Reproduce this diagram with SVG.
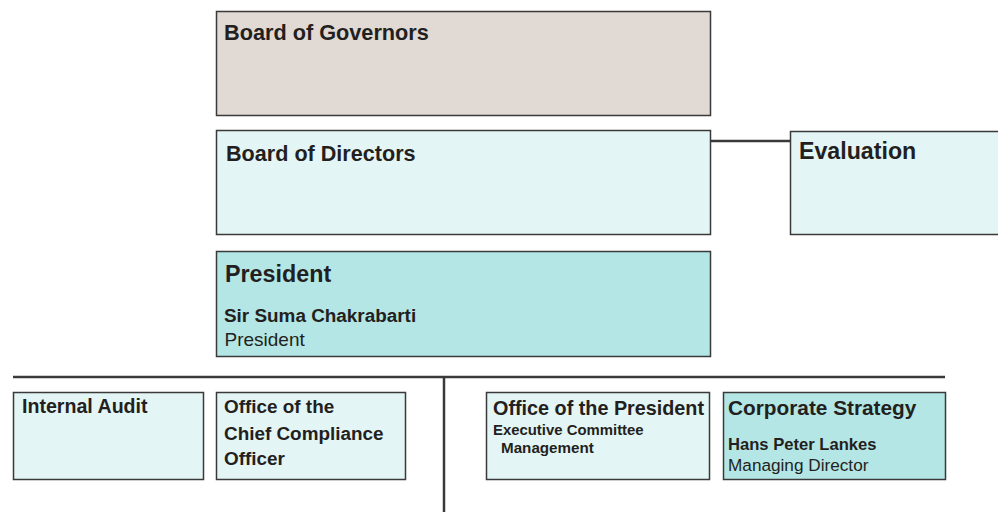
<svg xmlns="http://www.w3.org/2000/svg" width="998" height="512" viewBox="0 0 998 512">
<style>
.box{stroke:#3a3a3a;stroke-width:1.5}
.gov{fill:#e1d9d3}
.lt{fill:#e3f5f5}
.dk{fill:#b3e6e4}
text{font-family:"Liberation Sans","Arial",sans-serif;fill:#231f20}
.b{font-weight:bold}
.r{font-weight:normal}
.ln{stroke:#3a3a3a;stroke-width:2.5;fill:none}
</style>
<rect width="998" height="512" fill="#ffffff"/>
<g id="connectors">
<line class="ln" x1="711" y1="141" x2="790" y2="141"/>
<line class="ln" x1="13" y1="377" x2="945" y2="377"/>
<line class="ln" x1="444" y1="377" x2="444" y2="512"/>
</g>
<g id="board-of-governors">
<rect class="box gov" x="216.5" y="11.5" width="494" height="104"/>
<text class="b" x="224" y="40" font-size="21.7">Board of Governors</text>
</g>
<g id="board-of-directors">
<rect class="box lt" x="216.5" y="130.5" width="494" height="104"/>
<text class="b" x="226" y="161" font-size="21.6">Board of Directors</text>
</g>
<g id="evaluation">
<rect class="box lt" x="790.5" y="131.5" width="212" height="103"/>
<text class="b" x="799" y="159" font-size="23.2">Evaluation</text>
</g>
<g id="president">
<rect class="box dk" x="216.5" y="251.5" width="494" height="105"/>
<text class="b" x="225" y="282" font-size="23.3">President</text>
<text class="b" x="224" y="321.7" font-size="18.9">Sir Suma Chakrabarti</text>
<text class="r" x="224.5" y="345.7" font-size="19">President</text>
</g>
<g id="internal-audit">
<rect class="box lt" x="13.5" y="392.5" width="190" height="87"/>
<text class="b" x="22" y="413.3" font-size="19.6">Internal Audit</text>
</g>
<g id="chief-compliance">
<rect class="box lt" x="216.5" y="392.5" width="189" height="87"/>
<text class="b" x="224" y="413.3" font-size="18.9">Office of the</text>
<text class="b" x="224" y="440" font-size="18.9">Chief Compliance</text>
<text class="b" x="224" y="465" font-size="18.9">Officer</text>
</g>
<g id="office-of-the-president">
<rect class="box lt" x="486.5" y="392.5" width="223" height="87"/>
<text class="b" x="493" y="415" font-size="19.8">Office of the President</text>
<text class="b" x="493" y="435" font-size="14.9">Executive Committee</text>
<text class="b" x="501" y="452.7" font-size="15.2">Management</text>
</g>
<g id="corporate-strategy">
<rect class="box dk" x="723.5" y="392.5" width="222" height="87"/>
<text class="b" x="728" y="415" font-size="20.8">Corporate Strategy</text>
<text class="b" x="728" y="450" font-size="16.6">Hans Peter Lankes</text>
<text class="r" x="728" y="471" font-size="17.2">Managing Director</text>
</g>
</svg>
